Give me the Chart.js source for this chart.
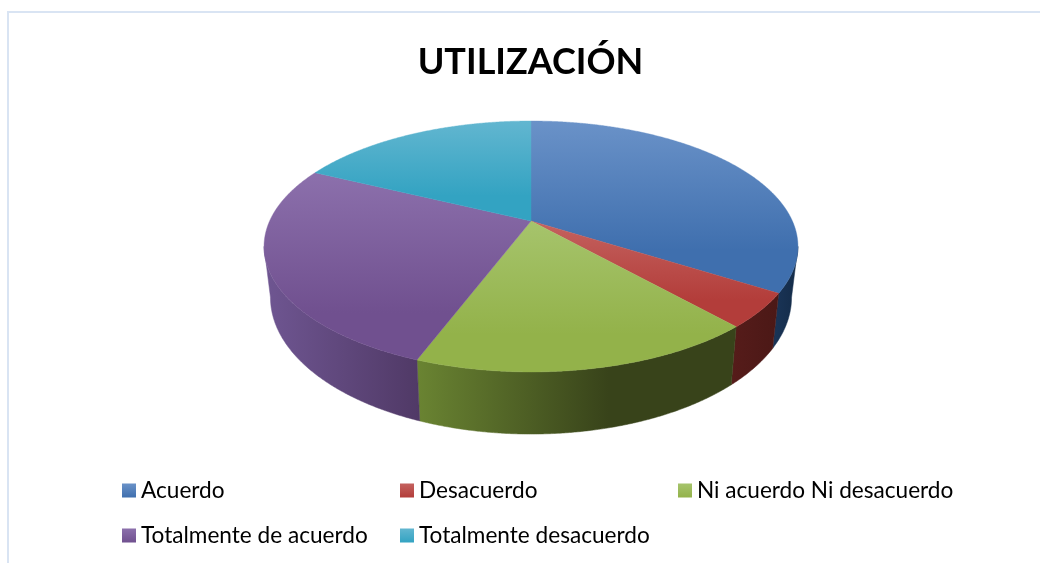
<!DOCTYPE html>
<html><head><meta charset="utf-8">
<style>html,body{margin:0;padding:0;background:#fff}#w{position:relative;width:1040px;height:563px}</style>
<script src="https://cdn.jsdelivr.net/npm/chart.js@4/dist/chart.umd.min.js"></script>
</head><body><div id="w"><canvas id="c" width="1040" height="563"></canvas></div>
<script>
const titleText = 'UTILIZACIÓN';
const categories = ['Acuerdo','Desacuerdo','Ni acuerdo Ni desacuerdo','Totalmente de acuerdo','Totalmente desacuerdo'];
const shares = [34.0, 4.4, 17.35, 26.45, 17.8];
const topLight = ['#6a92c8','#c4625f','#a6c46c','#8c70ac','#62b6d0'];
const topDark  = ['#3f6fae','#b33d3a','#93b24a','#70508f','#33a3c2'];
const sideLight = ['#1a3558','#561c1a','#6a8432','#6f5692','#1f6a80'];
const sideDark  = ['#142b48','#4b1816','#38431a','#503966','#1f6a80'];
const legendColumns = [122,400,678];
const legendRows = [490.5,535.5];

// camera of the tilted disc
const CX=531, CY=221, A=261.4, B=120.3, K=0.203, SHRINK=0.976;
function topPt(t){const w=1+K*Math.cos(t);return [CX+A*Math.sin(t)/w, CY-B*Math.cos(t)/w];}
function botPt(t){const p=topPt(t);return [CX+(p[0]-CX)*SHRINK, p[1]+55+0.09*(p[1]-293)];}
const SIDE_A=101.7*Math.PI/180, SIDE_B=258.3*Math.PI/180;

const tilted3D = {
  id:'tilted3D',
  beforeDraw(chart){
    const c=chart.ctx;
    c.save();c.fillStyle='#fff';c.fillRect(0,0,1040,563);
    c.fillStyle='#d9e4f3';c.fillRect(7,11,1033,2);c.fillRect(7,11,2,552);
    c.restore();
  },
  beforeDatasetDraw(chart){
    const c=chart.ctx, arcs=chart.getDatasetMeta(0).data;
    c.save();
    // side walls
    arcs.forEach((el,i)=>{
      const s=Math.max(el.startAngle+Math.PI/2,SIDE_A), e=Math.min(el.endAngle+Math.PI/2,SIDE_B);
      if(e<=s) return;
      const n=Math.max(2,Math.ceil((e-s)*180)), top=[], bot=[];
      for(let j=0;j<=n;j++){const t=s+(e-s)*j/n;top.push(topPt(t));bot.push(botPt(t));}
      const xs=top.concat(bot).map(p=>p[0]);
      const x0=Math.min(...xs), x1=Math.max(...xs);
      const g=c.createLinearGradient(x0,0,x1,0);
      if(i===2){g.addColorStop(0,sideLight[i]);g.addColorStop(0.6,sideDark[i]);g.addColorStop(1,sideDark[i]);}
      else{g.addColorStop(0,sideLight[i]);g.addColorStop(1,sideDark[i]);}
      c.beginPath();
      top.forEach((p,j)=>j?c.lineTo(p[0],p[1]):c.moveTo(p[0],p[1]));
      bot.reverse().forEach(p=>c.lineTo(p[0],p[1]));
      c.closePath();c.fillStyle=g;c.fill();c.strokeStyle=g;c.lineWidth=0.5;c.stroke();
    });
    // top faces
    arcs.forEach((el,i)=>{
      const s=el.startAngle+Math.PI/2, e=el.endAngle+Math.PI/2;
      const n=Math.max(2,Math.ceil((e-s)*180)), pts=[];
      for(let j=0;j<=n;j++) pts.push(topPt(s+(e-s)*j/n));
      const ys=pts.map(p=>p[1]).concat(CY);
      const g=c.createLinearGradient(0,Math.min(...ys),0,Math.max(...ys));
      g.addColorStop(0,topLight[i]);g.addColorStop(0.75,topDark[i]);g.addColorStop(1,topDark[i]);
      c.beginPath();c.moveTo(CX,CY);
      pts.forEach(p=>c.lineTo(p[0],p[1]));
      c.closePath();c.fillStyle=g;c.fill();c.strokeStyle=g;c.lineWidth=0.4;c.stroke();
    });
    c.restore();
    return false;
  },
  afterDraw(chart){
    const c=chart.ctx;
    c.save();c.font='22.6px Lato';c.textBaseline='middle';c.textAlign='left';
    categories.forEach((name,i)=>{
      const x=legendColumns[i%3], y=legendRows[Math.floor(i/3)];
      const g=c.createLinearGradient(0,y-7,0,y+7);
      g.addColorStop(0,topLight[i]);g.addColorStop(1,topDark[i]);
      c.fillStyle=g;c.fillRect(x,y-7,14,14);
      c.fillStyle='#000';c.fillText(name,x+19,y);
    });
    c.restore();
  }
};

new Chart(document.getElementById('c'),{
  type:'pie',
  data:{labels:categories,datasets:[{data:shares,backgroundColor:topDark,borderWidth:0}]},
  options:{
    responsive:false,animation:false,
    layout:{padding:{left:21,top:0,bottom:0}},
    plugins:{
      legend:{display:false},tooltip:{enabled:false},
      title:{display:true,text:titleText,color:'#000',padding:{top:41,bottom:20},
        font:{family:'Lato',size:36,weight:'bold'}}
    }
  },
  plugins:[tilted3D]
});
</script></body></html>
